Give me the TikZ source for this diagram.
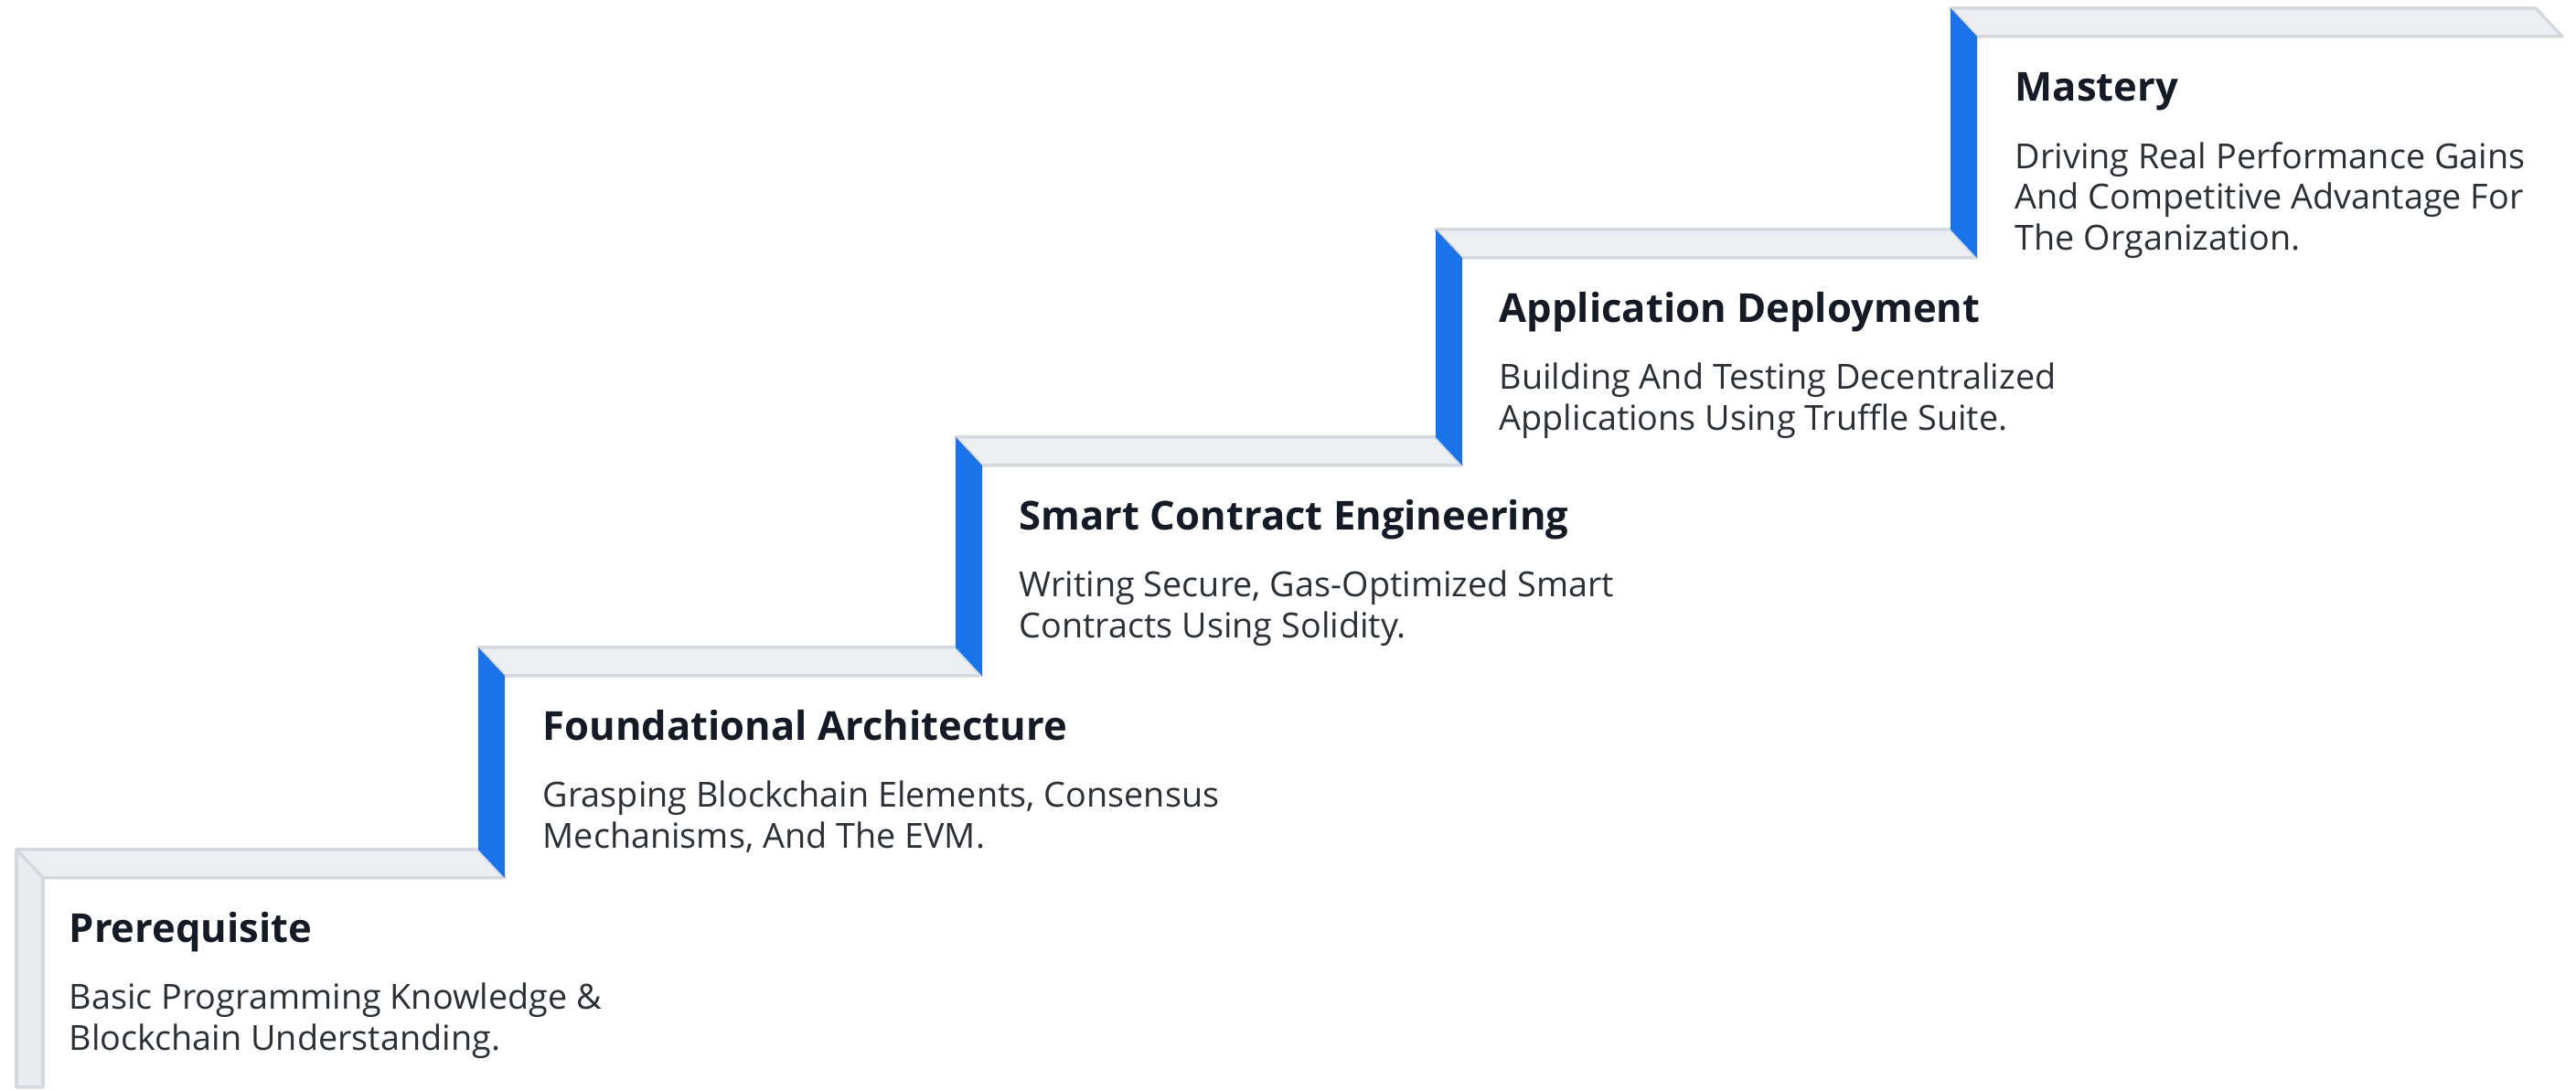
\documentclass[tikz,border=0pt]{standalone}
\usepackage{fontspec}
\setmainfont{Open Sans}
\usepackage{tikz}

\definecolor{stepblue}{HTML}{1A73E8}
\definecolor{bandfill}{HTML}{ECEEF2}
\definecolor{bandline}{HTML}{D5D9DF}
\definecolor{titlecol}{HTML}{141A26}
\definecolor{desccol}{HTML}{2B2F36}

\begin{document}
\begin{tikzpicture}[
    band/.style={fill=bandfill, draw=bandline, line width=1pt, line join=round},
    riser/.style={fill=stepblue},
    baseface/.style={fill=bandfill!85!bandline, draw=bandline, line width=1pt, line join=round},
    steptitle/.style={anchor=base west, inner sep=0pt, text=titlecol, font=\bfseries\fontsize{12.4}{14}\selectfont},
    stepdesc/.style={anchor=base west, inner sep=0pt, align=left, text=desccol, font=\fontsize{10.75}{12.8}\selectfont}
  ]
  \useasboundingbox (0,0) rectangle (28.17,11.93);

  % top faces of the steps
  \draw[band] (0.18,2.64) -- (5.23,2.64) -- (5.52,2.33) -- (0.47,2.33) -- cycle;
  \draw[band] (5.23,4.85) -- (10.45,4.85) -- (10.74,4.54) -- (5.52,4.54) -- cycle;
  \draw[band] (10.45,7.15) -- (15.70,7.15) -- (15.99,6.84) -- (10.74,6.84) -- cycle;
  \draw[band] (15.70,9.42) -- (21.33,9.42) -- (21.62,9.11) -- (15.99,9.11) -- cycle;
  \draw[band] (21.33,11.84) -- (27.73,11.84) -- (28.02,11.53) -- (21.62,11.53) -- cycle;

  % risers
  \draw[baseface] (0.18,2.64) -- (0.47,2.33) -- (0.47,0.04) -- (0.18,0.04) -- cycle;
  \fill[riser] (5.23,4.85) -- (5.52,4.54) -- (5.52,2.33) -- (5.23,2.64) -- cycle;
  \fill[riser] (10.45,7.15) -- (10.74,6.84) -- (10.74,4.54) -- (10.45,4.85) -- cycle;
  \fill[riser] (15.70,9.42) -- (15.99,9.11) -- (15.99,6.84) -- (15.70,7.15) -- cycle;
  \fill[riser] (21.33,11.84) -- (21.62,11.53) -- (21.62,9.11) -- (21.33,9.42) -- cycle;

  % labels (desc nodes sit on their last line)
  \node[steptitle] (prereq) at (0.75,1.62) {Prerequisite};
  \node[stepdesc] (prereqtxt) at (0.75,0.44) {Basic Programming Knowledge \&\\Blockchain Understanding.};

  \node[steptitle] (found) at (5.93,3.83) {Foundational Architecture};
  \node[stepdesc] (foundtxt) at (5.93,2.65) {Grasping Blockchain Elements, Consensus\\Mechanisms, And The EVM.};

  \node[steptitle] (smart) at (11.14,6.13) {Smart Contract Engineering};
  \node[stepdesc] (smarttxt) at (11.14,4.95) {Writing Secure, Gas-Optimized Smart\\Contracts Using Solidity.};

  \node[steptitle] (deploy) at (16.39,8.40) {Application Deployment};
  \node[stepdesc] (deploytxt) at (16.39,7.22) {Building And Testing Decentralized\\Applications Using Truffle Suite.};

  \node[steptitle] (master) at (22.03,10.82) {Mastery};
  \node[stepdesc] (mastertxt) at (22.03,9.19) {Driving Real Performance Gains\\And Competitive Advantage For\\The Organization.};
\end{tikzpicture}
\end{document}
